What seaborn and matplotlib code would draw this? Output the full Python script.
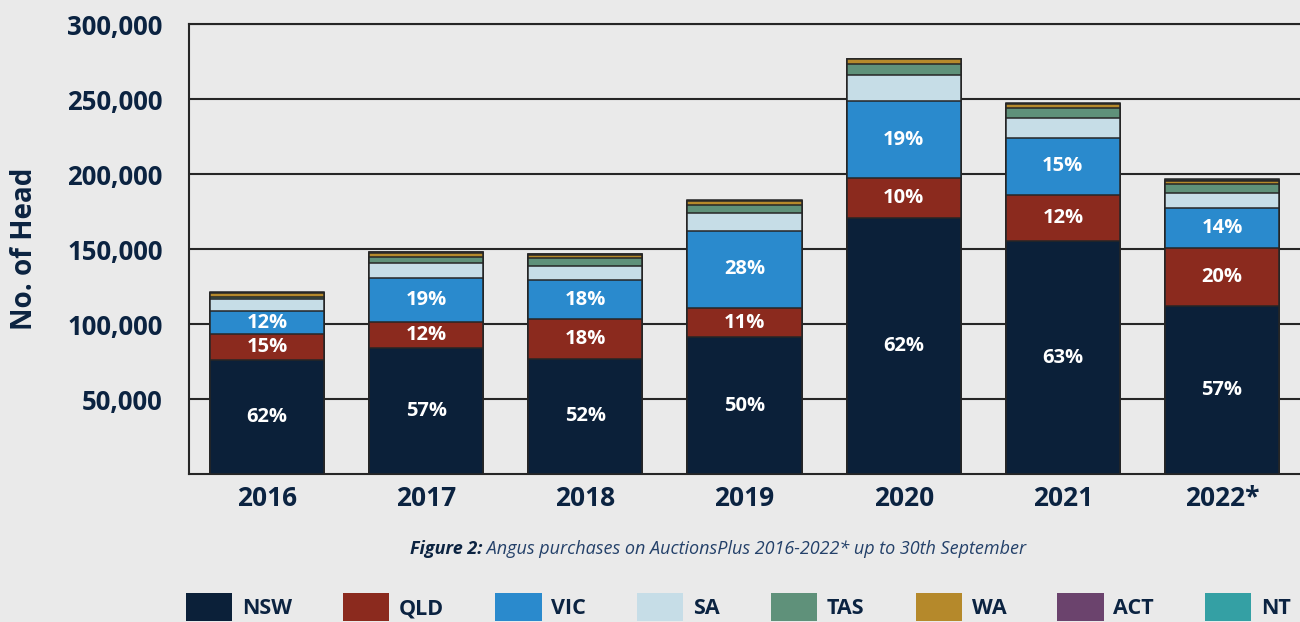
import numpy as np
import pandas as pd
import matplotlib; matplotlib.use("Agg")
import matplotlib.pyplot as plt
from matplotlib.patches import Patch
import matplotlib.ticker as mticker
import seaborn as sns

# ---- data ----
years = ["2016", "2017", "2018", "2019", "2020", "2021", "2022*"]
states = ["NSW", "QLD", "VIC", "SA", "TAS", "WA", "ACT", "NT"]
nsw = [76000, 84200, 76700, 91300, 170700, 155300, 112000]
qld = [17500, 17300, 26600, 19400, 26600, 30700, 38700]
vic = [14900, 29000, 26000, 51300, 51400, 38200, 26800]
sa  = [8100, 10000, 9400, 12200, 17500, 12900, 10000]
tas = [1300, 4400, 5500, 4900, 7300, 6700, 6000]
wa  = [2900, 2600, 1800, 2700, 3000, 2900, 1800]
act = [300, 400, 400, 400, 300, 200, 900]
nt  = [300, 300, 300, 300, 200, 200, 300]
pct_nsw = ["62%", "57%", "52%", "50%", "62%", "63%", "57%"]
pct_qld = ["15%", "12%", "18%", "11%", "10%", "12%", "20%"]
pct_vic = ["12%", "19%", "18%", "28%", "19%", "15%", "14%"]
yticks = [50000, 100000, 150000, 200000, 250000, 300000]

colors = ["#0b2039", "#8b2a1e", "#2a8acd", "#c6dde7", "#5f917a", "#b5892b", "#6b436d", "#34a0a4"]
BG = "#eaeaea"; INK = "#0b2341"; LINE = "#262626"

sns.set_theme(style="white")
plt.rcParams.update({"font.family": ["Open Sans", "DejaVu Sans"]})

df = pd.DataFrame({"year": years, "NSW": nsw, "QLD": qld, "VIC": vic, "SA": sa,
                   "TAS": tas, "WA": wa, "ACT": act, "NT": nt})
cum = df[states].cumsum(axis=1)

fig = plt.figure(figsize=(13, 6.22), dpi=100, facecolor=BG)
ax = fig.add_axes([0.1454, 0.2379, 0.8546, 0.7235])
ax.set_facecolor(BG)

# stacked bars: draw cumulative totals tallest first, each covering the one below
for st, col in reversed(list(zip(states, colors))):
    sns.barplot(x=df["year"], y=cum[st], color=col, saturation=1, width=0.717,
                edgecolor=LINE, linewidth=1.1, ax=ax, zorder=3)

for seg, pcts in zip(["NSW", "QLD", "VIC"], [pct_nsw, pct_qld, pct_vic]):
    mids = cum[seg] - df[seg] / 2
    for i, (m, p) in enumerate(zip(mids, pcts)):
        ax.text(i, m, p, ha="center", va="center", color="white",
                fontsize=14.5, fontweight="bold", zorder=5)

ax.set_xlim(-0.49, 6.49); ax.set_ylim(0, 300000)
ax.set_yticks(yticks)
ax.yaxis.set_major_formatter(mticker.StrMethodFormatter("{x:,.0f}"))
ax.grid(axis="y", color=LINE, lw=1.5); ax.set_axisbelow(True)
for s in ["left", "bottom", "top"]:
    ax.spines[s].set_visible(True); ax.spines[s].set_color(LINE); ax.spines[s].set_linewidth(1.5)
ax.spines["right"].set_visible(False)
ax.tick_params(axis="y", length=0, pad=19, labelsize=18.5, labelcolor=INK)
ax.tick_params(axis="x", length=0, pad=8, labelsize=19, labelcolor=INK)
for lab in ax.get_xticklabels() + ax.get_yticklabels():
    lab.set_fontweight("bold")
ax.set_xlabel("")
ax.set_ylabel("No. of Head", fontsize=20, fontweight="bold", color=INK)
ax.yaxis.set_label_coords(-0.135, 0.5)

# caption
t1 = fig.text(0.3154, 0.117, "Figure 2:", fontsize=13, style="italic",
              fontweight="bold", color=INK, va="center", ha="left")
ax.annotate(" Angus purchases on AuctionsPlus 2016-2022* up to 30th September",
            xy=(1, 0.5), xycoords=t1, va="center", ha="left", fontsize=13,
            style="italic", color="#24416a", annotation_clip=False)

handles = [Patch(facecolor=c, edgecolor="none", label=s) for s, c in zip(states, colors)]
fig.legend(handles=handles, loc="center", bbox_to_anchor=(0.568, 0.024), ncol=8,
           frameon=False, prop={"weight": "bold", "size": 15.5}, labelcolor=INK,
           handlelength=2.15, handleheight=1.6, handletextpad=0.45, columnspacing=2.37)

fig.savefig("out.png", dpi=100, facecolor=BG)
